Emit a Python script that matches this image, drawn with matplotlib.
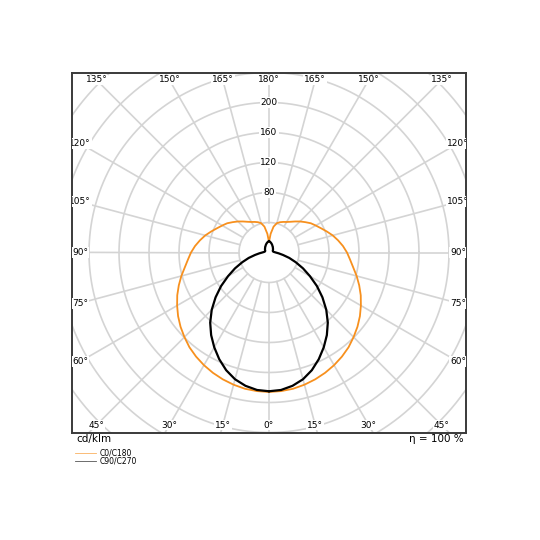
import numpy as np
import matplotlib
matplotlib.use('Agg')
import matplotlib.pyplot as plt

# ===========================
# data (cd/klm), gamma 0..180 step 5
# ===========================
GAMMA = list(range(0, 181, 5))
C0_C180 = [186, 185.5, 184.5, 182.5, 180, 177, 173.5, 169.5, 165, 159.5,
           154, 148, 141.5, 135, 128, 121, 114, 108.5, 104, 99, 93.5, 88,
           82, 76.5, 72, 68, 63, 58.5, 54, 50, 47, 45, 43, 40.5, 35, 25, 14]
C90_C270 = [185, 184, 180.5, 175, 167, 157, 146, 134.5, 122, 108, 93, 78,
            63, 50, 38, 28, 19, 13, 9, 7, 6, 5.5, 5.5, 5.5, 6, 6.5, 7, 7.5,
            8, 9, 9.5, 10.5, 11.5, 12.5, 13.5, 14.5, 15]
RINGS = [40, 80, 120, 160, 200, 240, 280, 320, 360]
RING_LABELS = [80, 120, 160, 200]
SPOKES = list(range(0, 360, 15))
ANGLE_LABELS = [0, 15, 30, 45, 60, 75, 90, 105, 120, 135, 150, 165, 180]

ORANGE = "#f7901e"
GRID = "#d4d4d4"


def to_xy(gamma_deg, r, side=-1):
    g = np.radians(np.asarray(gamma_deg, dtype=float))
    r = np.asarray(r, dtype=float)
    return side * r * np.sin(g), -r * np.cos(g)


fig = plt.figure(figsize=(5.4, 5.4), dpi=100)
ax = fig.add_axes([72 / 540, 107.5 / 540, 394 / 540, 360 / 540])
HX, HY = 262.7, 240.0
ax.set_xlim(-HX, HX)
ax.set_ylim(-HY, HY)
ax.set_xticks([])
ax.set_yticks([])
for sp in ax.spines.values():
    sp.set_color("#3a3a3a")
    sp.set_linewidth(1.4)

# grid
t = np.linspace(0, 2 * np.pi, 400)
for r in RINGS:
    ax.plot(r * np.cos(t), r * np.sin(t), color=GRID, lw=1.2, zorder=1)
for a in SPOKES:
    xs, ys = to_xy([a, a], [40, 420], side=1)
    ax.plot(xs, ys, color=GRID, lw=1.2, zorder=1)

# radial value labels along 180 deg
for v in RING_LABELS:
    ax.text(0, v, str(v), ha="center", va="center", fontsize=6.5,
            bbox=dict(boxstyle="square,pad=0.1", fc="white", ec="none"), zorder=3)

# angle labels at the inner edge of the frame
ix, iy = HX - 10.7, HY - 10.0
for a in ANGLE_LABELS:
    g = np.radians(a)
    for side in (-1, 1):
        if a in (0, 180) and side == 1:
            continue
        s, c = abs(np.sin(g)), abs(np.cos(g))
        d = min(ix / s if s > 1e-9 else 1e9, iy / c if c > 1e-9 else 1e9)
        x, y = side * d * np.sin(g), -d * np.cos(g)
        ax.text(x, y, f"{a}°", ha="center", va="center", fontsize=6.5,
                bbox=dict(boxstyle="square,pad=0.1", fc="white", ec="none"),
                clip_on=True, zorder=3)

# curves
for side in (-1, 1):
    x, y = to_xy(GAMMA, C0_C180, side)
    ax.plot(x, y, color=ORANGE, lw=1.3, zorder=4, solid_joinstyle="round")
for side in (-1, 1):
    x, y = to_xy(GAMMA, C90_C270, side)
    ax.plot(x, y, color="black", lw=1.6, zorder=5, solid_joinstyle="round")

# texts under the frame
fig.text(76 / 540, 1 - 439 / 540, "cd/klm", ha="left", va="center", fontsize=7.5)
fig.text(464 / 540, 1 - 439 / 540, "η = 100 %", ha="right", va="center", fontsize=7.5)
fig.add_artist(plt.Line2D([75 / 540, 96 / 540], [1 - 453 / 540] * 2,
                          color=ORANGE, lw=0.6, alpha=0.7))
fig.add_artist(plt.Line2D([75 / 540, 96 / 540], [1 - 461 / 540] * 2,
                          color="#555555", lw=0.6))
fig.text(100 / 540, 1 - 453 / 540, "C0/C180", ha="left", va="center", fontsize=5.5)
fig.text(100 / 540, 1 - 461 / 540, "C90/C270", ha="left", va="center", fontsize=5.5)

fig.savefig("out.png", dpi=100)
